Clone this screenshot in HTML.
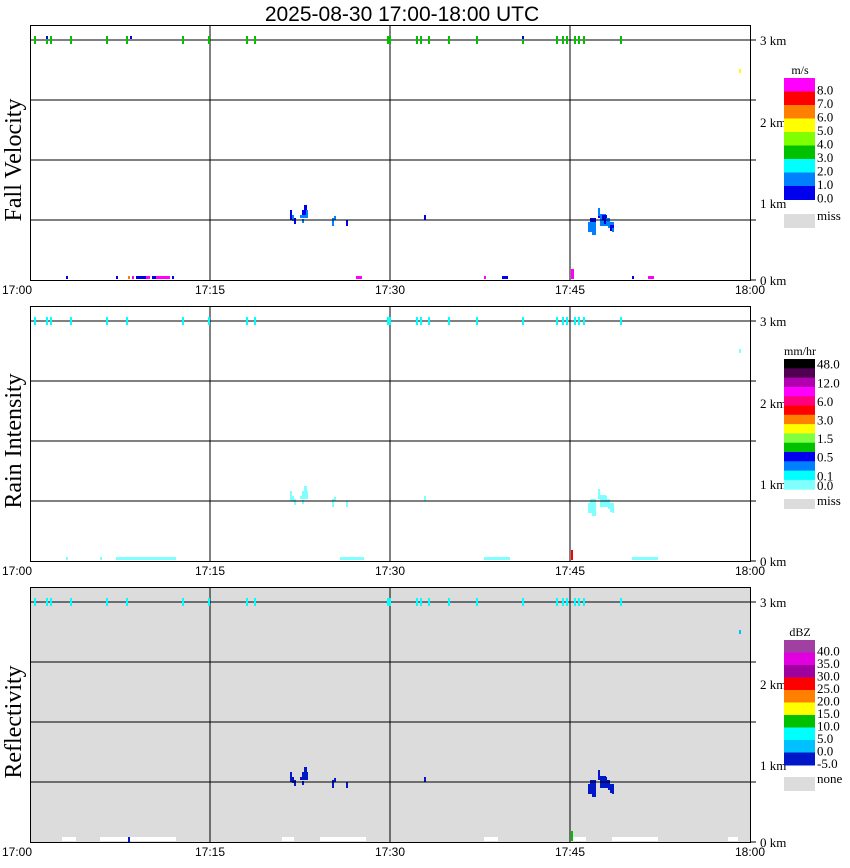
<!DOCTYPE html>
<html><head><meta charset="utf-8"><style>
body{margin:0;background:#fff;}
svg{display:block;font-family:"Liberation Sans",sans-serif;}
.s{font-family:"Liberation Serif",serif;}
</style></head><body>
<svg id="g" width="850" height="868" xmlns="http://www.w3.org/2000/svg">
<text x="402" y="21" font-size="21" text-anchor="middle">2025-08-30   17:00-18:00 UTC</text>
</svg>
<script>
const S=document.getElementById('g');const NS='http://www.w3.org/2000/svg';
function R(x,y,w,h,f){const r=document.createElementNS(NS,'rect');r.setAttribute('x',x);r.setAttribute('y',y);r.setAttribute('width',w);r.setAttribute('height',h);r.setAttribute('fill',f);S.appendChild(r);}
function T(x,y,t,fs,a,cls,rot){const e=document.createElementNS(NS,'text');e.setAttribute('x',x);e.setAttribute('y',y);e.setAttribute('font-size',fs);if(a)e.setAttribute('text-anchor',a);if(cls)e.setAttribute('class',cls);if(rot)e.setAttribute('transform',rot);e.textContent=t;S.appendChild(e);}
function L(x1,y1,x2,y2){const l=document.createElementNS(NS,'line');l.setAttribute('x1',x1);l.setAttribute('y1',y1);l.setAttribute('x2',x2);l.setAttribute('y2',y2);l.setAttribute('stroke','#000');l.setAttribute('stroke-width',1);S.appendChild(l);}
const tops=[25,306,587];
const names=['Fall Velocity','Rain Intensity','Reflectivity'];
const marks=[35,47,51,71,107,127,183,209,247,255,388,390,417,421,429,449,477,523,557,563,567,575,579,584,621];
tops.forEach((T0,p)=>{
 const B=T0+255;
 if(p==2)R(30,T0,720,255,'#dcdcdc');
 const c1=p==0?'#0000ee':p==1?'#7fffff':'#0018c8';
 const c2=p==0?'#0080ff':p==1?'#7fffff':'#0018c8';
 const cl=[[290,210,2,10,c1],[292,215,2,6,c2],[294,218,2,6,c1],[302,210,2,8,c1],[304,205,3,12,c1],[300,215,6,3,c2],[306,210,2,8,c2],[302,219,2,4,c2],[332,218,2,8,c2],[334,216,2,4,c2],[346,220,2,6,c1],[424,215,2,5,c1],
 [588,222,8,10,c2],[592,226,4,9,c2],[590,218,6,4,c1],[598,212,2,6,c1],[598,208,2,8,c2],[600,214,6,12,c2],[602,215,5,5,c1],[604,220,4,4,c1],[606,218,4,8,c2],[608,222,6,6,c2],[610,225,4,6,c1],[612,228,2,4,c2]];
 cl.forEach(d=>R(d[0],d[1]-25+T0,d[2],d[3],d[4]));
 if(p==0){[[66,2,'#0000ee'],[116,2,'#0000ee'],[128,2,'#ff8000'],[132,2,'#ff00ff'],[136,10,'#0000ee'],[146,4,'#ff00ff'],[152,4,'#0000ee'],[156,8,'#ff00ff'],[164,6,'#ff00ff'],[172,2,'#0000ee'],[356,6,'#ff00ff'],[484,2,'#ff00ff'],[502,6,'#0000ee'],[632,2,'#0000ee'],[648,6,'#ff00ff']].forEach(d=>R(d[0],B-4,d[1],3,d[2]));R(571,269,3,10,'#ff00ff');R(739,69,2,4,'#ffff00');}
 if(p==1){[[66,2],[100,2],[116,60],[340,24],[484,26],[632,26]].forEach(d=>R(d[0],B-4,d[1],3,'#7fffff'));R(571,550,2,10,'#ff0000');R(739,349,2,4,'#7fffff');}
 if(p==2){[[62,14],[100,76],[282,12],[320,46],[484,14],[572,14],[612,46],[728,10]].forEach(d=>R(d[0],B-5,d[1],4,'#ffffff'));R(128,B-5,2,5,'#0018c8');R(571,831,2,10,'#00c000');R(739,630,2,4,'#00bfff');}
 for(let i=0;i<4;i++)L(30,T0+15+60*i,756,T0+15+60*i);
 L(750,B,756,B);
 [210,390,570].forEach(x=>L(x,T0,x,B));
 S.insertAdjacentHTML('beforeend',`<rect x="30.5" y="${T0+.5}" width="720" height="255" fill="none" stroke="#000"/>`);
 const mc=p==0?'#00c000':'#00ffff';
 marks.forEach(x=>R(x-1,T0+11,2,8,mc));
 if(p==0){R(46,T0+11,2,3,'#0000ee');R(130,T0+11,2,3,'#0000ee');R(522,T0+11,2,3,'#0000ee');}
 ['3 km','2 km','1 km','0 km'].forEach((t,i)=>{const yy=[T0+15,T0+97,T0+178,B][i];T(760,yy+5,t,13,null,'s');});
 T(17,B+14,'17:00',12,'middle');T(210,B+14,'17:15',12,'middle');T(390,B+14,'17:30',12,'middle');T(570,B+14,'17:45',12,'middle');T(750,B+14,'18:00',12,'middle');
 T(21,T0+135,names[p],24,'middle','s',`rotate(-90 21 ${T0+135})`);
});
function leg(x,y0,h,cols,labels,unit,miss,my){T(x+16,y0-4,unit,12,'middle','s');cols.forEach((c,i)=>R(x,y0+i*h,31,h+0.5,c));labels.forEach((t,i)=>T(x+33,y0+h*(i+1)+3,t,13,null,'s'));R(x,my,31,14,'#dcdcdc');T(x+33,my+6,miss,13,null,'s');}
leg(784,78,13.5,['#ff00ff','#ff0000','#ff8000','#ffff00','#80ff00','#00c000','#00ffff','#0080ff','#0000ee'],['8.0','7.0','6.0','5.0','4.0','3.0','2.0','1.0','0.0'],'m/s','miss',214);
(function(){const x=784,y0=359,h=9.3;const cols=['#000000','#500050','#b000b0','#ff00ff','#ff0080','#ff0000','#ff8000','#ffff00','#80ff40','#00c000','#0000ee','#0080ff','#00ffff','#80ffff'];T(x+16,y0-4,'mm/hr',12,'middle','s');cols.forEach((c,i)=>R(x,y0+i*h,31,h+0.5,c));[['48.0',0],['12.0',2],['6.0',4],['3.0',6],['1.5',8],['0.5',10],['0.1',12]].forEach(a=>T(x+33,y0+h*(a[1]+1)+4-h/2+1,a[0],13,null,'s'));T(x+33,y0+h*14+1,'0.0',13,null,'s');R(x,499,31,10,'#dcdcdc');T(x+33,505,'miss',13,null,'s');})();
leg(784,640,12.5,['#a040a0','#e000e0','#a000a0','#ff0000','#ff8000','#ffff00','#00c000','#00ffff','#00c0ff','#0018c8'],['40.0','35.0','30.0','25.0','20.0','15.0','10.0','5.0','0.0','-5.0'],'dBZ','none',777);
</script>
</body></html>
